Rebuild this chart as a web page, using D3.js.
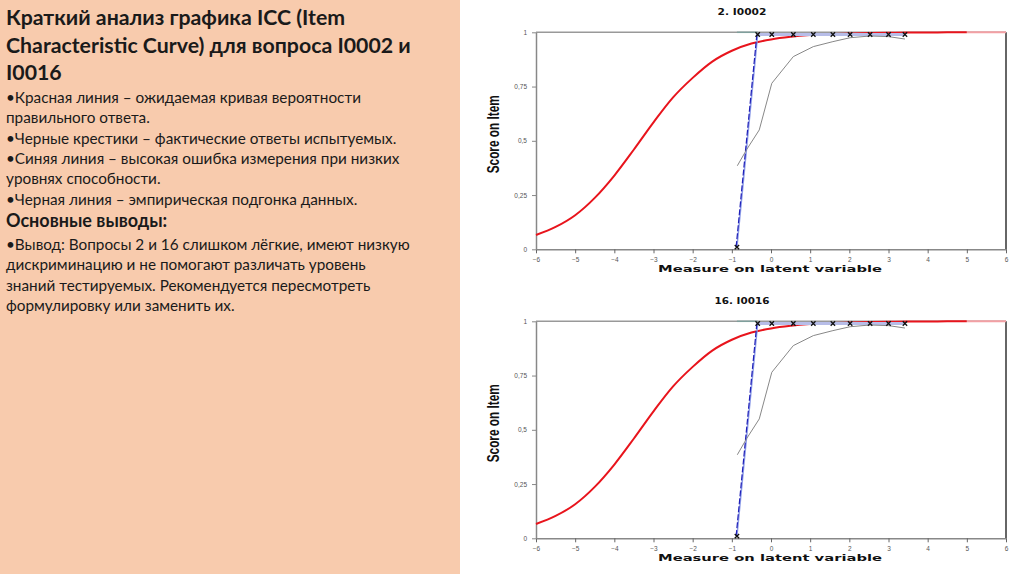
<!DOCTYPE html>
<html>
<head>
<meta charset="utf-8">
<script src="https://cdn.jsdelivr.net/npm/d3@7"></script>
<style>
  body { margin: 0; background: white; }
  svg { display: block; }
</style>
</head>
<body>
<svg id="vis"></svg>
<script>
// slide text
const TITLE_LINES = ['Краткий анализ графика ICC (Item', 'Characteristic Curve) для вопроса I0002 и', 'I0016']
const NOTE_LINES = ['•Красная линия – ожидаемая кривая вероятности', 'правильного ответа.',
    '•Черные крестики – фактические ответы испытуемых.', '•Синяя линия – высокая ошибка измерения при низких',
    'уровнях способности.', '•Черная линия – эмпирическая подгонка данных.']
const SUMMARY_HEAD = 'Основные выводы:'
const SUMMARY_LINES = ['•Вывод: Вопросы 2 и 16 слишком лёгкие, имеют низкую', 'дискриминацию и не помогают различать уровень',
    'знаний тестируемых. Рекомендуется пересмотреть', 'формулировку или заменить их.']

// chart data
const X_TICKS = [-6, -5, -4, -3, -2, -1, 0, 1, 2, 3, 4, 5, 6]
const Y_TICKS = [0, 0.25, 0.5, 0.75, 1]
const Y_TICK_LABELS = ['0', '0,25', '0,5', '0,75', '1']
const CHART_TITLES = ['2. I0002', '16. I0016']

// expected curve (red)
const expX = [-6, -5.5, -5, -4.5, -4, -3.5, -3, -2.5, -2, -1.5, -1, -0.5, 0, 0.5, 1, 1.5, 2, 2.5, 3, 3.5, 4, 4.5, 5, 5.5, 6]
const expY = [0.066, 0.103, 0.157, 0.237, 0.34, 0.46, 0.585, 0.70, 0.79, 0.865, 0.915, 0.948, 0.967, 0.979, 0.987, 0.992, 0.995, 0.997, 0.998, 0.999, 0.999, 1, 1, 1, 1]

// observed scores (crosses)
const obsX_I0002 = [-0.87, -0.34, 0.02, 0.57, 1.08, 1.58, 2.02, 2.53, 3.0, 3.42]
const obsY_I0002 = [0.01, 0.99, 0.99, 0.99, 0.99, 0.99, 0.99, 0.99, 0.99, 0.99]
const obsX_I0016 = [-0.87, -0.34, 0.02, 0.57, 1.08, 1.58, 2.02, 2.53, 3.0, 3.42]
const obsY_I0016 = [0.01, 0.99, 0.99, 0.99, 0.99, 0.99, 0.99, 0.99, 0.99, 0.99]

// empirical fit (gray)
const empX_I0002 = [-0.86, -0.62, -0.30, 0.02, 0.57, 1.08, 1.58, 2.02, 2.53, 3.0, 3.42]
const empY_I0002 = [0.385, 0.46, 0.55, 0.765, 0.888, 0.934, 0.957, 0.975, 0.983, 0.98, 0.969]
const empX_I0016 = [-0.86, -0.62, -0.30, 0.02, 0.57, 1.08, 1.58, 2.02, 2.53, 3.0, 3.42]
const empY_I0016 = [0.385, 0.46, 0.55, 0.765, 0.888, 0.934, 0.957, 0.975, 0.983, 0.98, 0.969]

const PEACH = '#f8cbad'
const PANEL_W = 460

var svg = d3.select('#vis')
    .attr('width', 1024)
    .attr('height', 574)

// left text panel
svg.append('rect')
    .attr('x', 0)
    .attr('y', 0)
    .attr('width', PANEL_W)
    .attr('height', 574)
    .attr('fill', PEACH)

var txt = svg.append('g').attr('font-family', 'Lato, "Open Sans", sans-serif').attr('fill', '#1a1a1a')

TITLE_LINES.forEach(function(line, i) {
    txt.append('text')
        .attr('x', 6)
        .attr('y', 25 + i * 27.5)
        .attr('font-size', 21.3)
        .attr('font-weight', 'bold')
        .text(line)
})

NOTE_LINES.forEach(function(line, i) {
    txt.append('text')
        .attr('x', 6)
        .attr('y', 103 + i * 20.3)
        .attr('font-size', 15.3)
        .text(line)
})

txt.append('text')
    .attr('x', 6)
    .attr('y', 227)
    .attr('font-size', 18)
    .attr('font-weight', 'bold')
    .text(SUMMARY_HEAD)

SUMMARY_LINES.forEach(function(line, i) {
    txt.append('text')
        .attr('x', 6)
        .attr('y', 249.5 + i * 20.5)
        .attr('font-size', 15.3)
        .text(line)
})

// one ICC plot
function drawIcc(top, title, obsX, obsY, empX, empY) {
    var x = d3.scaleLinear().domain([-6, 6]).range([536, 1006])
    var y = d3.scaleLinear().domain([0, 1]).range([top + 217, top])
    var g = svg.append('g')

    // frame
    g.append('line')
        .attr('x1', x(-6)).attr('x2', x(6))
        .attr('y1', y(1)).attr('y2', y(1))
        .attr('stroke', '#999').attr('stroke-width', 1.5)
    g.append('line')
        .attr('x1', x(6)).attr('x2', x(6))
        .attr('y1', y(1)).attr('y2', y(0))
        .attr('stroke', '#666').attr('stroke-width', 2)

    var xAxis = g.append('g')
        .attr('transform', `translate(0,${y(0)})`)
        .call(d3.axisBottom(x).tickValues(X_TICKS).tickSize(4).tickSizeOuter(0))
    xAxis.select('.domain').attr('stroke', '#888').attr('stroke-width', 1.5)
    xAxis.selectAll('.tick line').attr('stroke', '#666')
    xAxis.selectAll('.tick text')
        .attr('font-family', 'Arial, "Liberation Sans", sans-serif')
        .attr('font-size', 6.5)
        .attr('fill', '#555')
        .attr('dy', '0.9em')

    var yAxis = g.append('g')
        .attr('transform', `translate(${x(-6)},0)`)
        .call(d3.axisLeft(y).tickValues(Y_TICKS).tickFormat((d, i) => Y_TICK_LABELS[i]).tickSize(4).tickSizeOuter(0))
    yAxis.select('.domain').attr('stroke', '#888').attr('stroke-width', 1.5)
    yAxis.selectAll('.tick line').attr('stroke', '#888')
    yAxis.selectAll('.tick text')
        .attr('font-family', 'Arial, "Liberation Sans", sans-serif')
        .attr('font-size', 6.5)
        .attr('fill', '#555')
        .attr('x', -9)

    // labels
    g.append('text')
        .attr('x', 742)
        .attr('y', top - 17)
        .attr('text-anchor', 'middle')
        .attr('font-family', '"DejaVu Sans", sans-serif')
        .attr('font-weight', 'bold')
        .attr('font-size', 8.5)
        .attr('textLength', title.length * 6.1)
        .attr('lengthAdjust', 'spacingAndGlyphs')
        .attr('fill', '#111')
        .text(title)

    g.append('text')
        .attr('x', 770)
        .attr('y', y(0) + 23)
        .attr('text-anchor', 'middle')
        .attr('font-family', '"DejaVu Sans", sans-serif')
        .attr('font-weight', 'bold')
        .attr('font-size', 9.5)
        .attr('textLength', 224)
        .attr('lengthAdjust', 'spacingAndGlyphs')
        .attr('fill', '#111')
        .text('Measure on latent variable')

    g.append('text')
        .attr('transform', `translate(499,${top + 102}) rotate(-90)`)
        .attr('text-anchor', 'middle')
        .attr('font-family', '"Liberation Sans Narrow", "Arial Narrow", sans-serif')
        .attr('font-weight', 'bold')
        .attr('font-size', 16)
        .attr('textLength', 78)
        .attr('lengthAdjust', 'spacingAndGlyphs')
        .attr('fill', '#111')
        .text('Score on Item')

    var line = d3.line().x(d => x(d[0])).y(d => y(d[1]))
    var smooth = d3.line().x(d => x(d[0])).y(d => y(d[1])).curve(d3.curveMonotoneX)

    // expected curve
    var exp = expX.map((v, i) => [v, expY[i]])
    g.append('path')
        .datum(exp.filter(d => d[0] <= 5))
        .attr('d', smooth)
        .attr('fill', 'none')
        .attr('stroke', '#e8141c')
        .attr('stroke-width', 2)
    g.append('path')
        .datum(exp.filter(d => d[0] >= 5))
        .attr('d', smooth)
        .attr('fill', 'none')
        .attr('stroke', '#f3a0a4')
        .attr('stroke-width', 2)

    // observed band on top and blue steep segment
    var obs = obsX.map((v, i) => [v, obsY[i]])
    g.append('path')
        .datum([[obsX[0], 1], [obsX[1], 1]])
        .attr('d', line)
        .attr('fill', 'none')
        .attr('stroke', '#7f9f9c')
        .attr('stroke-width', 1.5)
    g.append('path')
        .datum(obs.slice(1))
        .attr('d', line)
        .attr('fill', 'none')
        .attr('stroke', '#b7bde8')
        .attr('stroke-width', 3)
    g.append('path')
        .datum(obs.slice(0, 2))
        .attr('d', line)
        .attr('fill', 'none')
        .attr('stroke', '#8d9ce8')
        .attr('stroke-width', 1.5)
    g.append('path')
        .datum(obs.slice(0, 2))
        .attr('d', line)
        .attr('fill', 'none')
        .attr('stroke', '#1f1fb8')
        .attr('stroke-width', 1.2)
        .attr('stroke-dasharray', '6,2')
        .attr('transform', 'translate(-0.8,0)')

    // empirical fit
    g.append('path')
        .datum(empX.map((v, i) => [v, empY[i]]))
        .attr('d', line)
        .attr('fill', 'none')
        .attr('stroke', '#888')
        .attr('stroke-width', 1)

    // crosses
    g.selectAll('.cross')
        .data(obs)
        .enter()
        .append('path')
        .attr('d', d => {
            var cx = x(d[0]), cy = y(d[1]), s = 2.2
            return `M${cx - s},${cy - s}L${cx + s},${cy + s}M${cx - s},${cy + s}L${cx + s},${cy - s}`
        })
        .attr('stroke', '#111')
        .attr('stroke-width', 1.3)
}

drawIcc(32.3, CHART_TITLES[0], obsX_I0002, obsY_I0002, empX_I0002, empY_I0002)
drawIcc(321.3, CHART_TITLES[1], obsX_I0016, obsY_I0016, empX_I0016, empY_I0016)
</script>
</body>
</html>
